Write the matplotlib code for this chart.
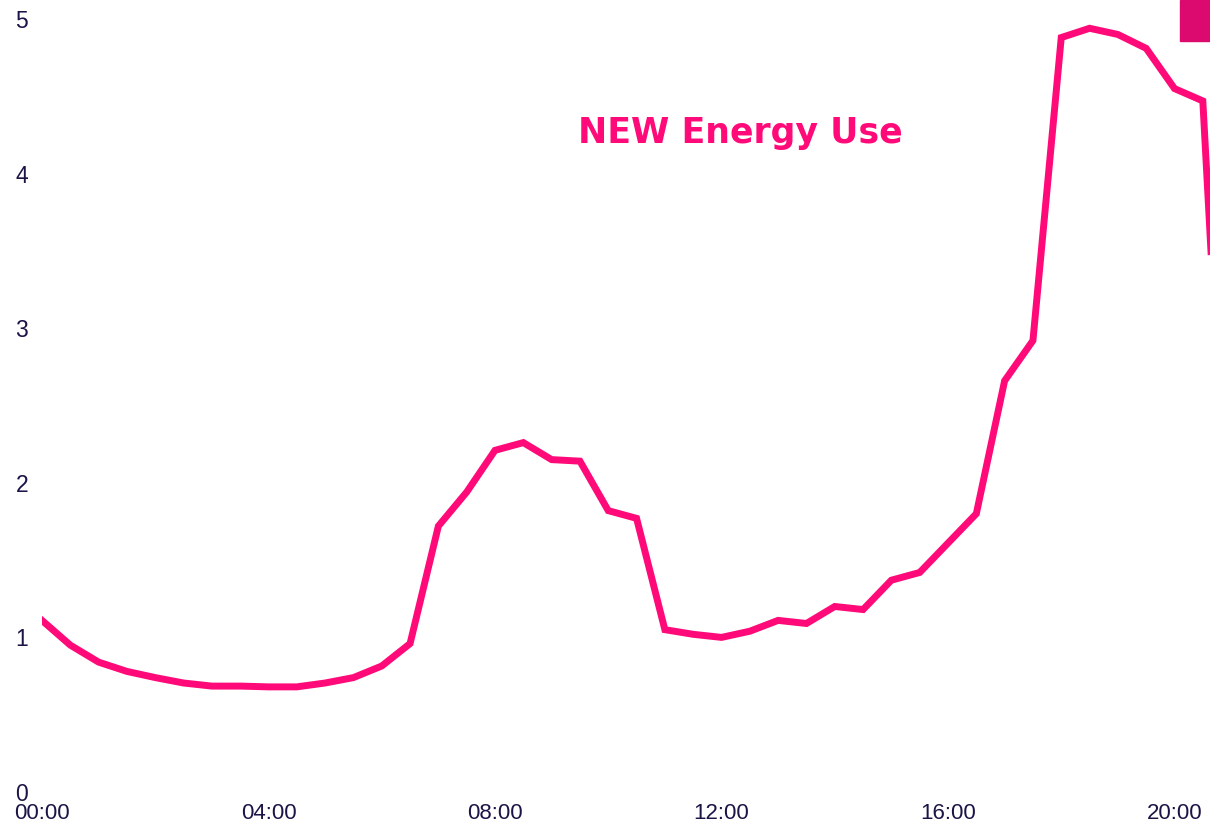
import matplotlib
matplotlib.use("Agg")
import matplotlib.pyplot as plt
from matplotlib.patches import Rectangle

# half-hourly energy use (kWh)
hours = [i * 0.5 for i in range(43)]
energy = [1.11, 0.95, 0.84, 0.78, 0.74, 0.705, 0.685, 0.685, 0.68, 0.68,
          0.705, 0.74, 0.815, 0.96, 1.72, 1.94, 2.21, 2.26, 2.15, 2.14,
          1.82, 1.77, 1.05, 1.02, 1.00, 1.04, 1.11, 1.09, 1.20, 1.18,
          1.37, 1.42, 1.61, 1.80, 2.66, 2.92, 4.88, 4.94, 4.90, 4.81,
          4.55, 4.47, 1.1]
xticks = [0, 4, 8, 12, 16, 20]
xtick_labels = ["00:00", "04:00", "08:00", "12:00", "16:00", "20:00"]
yticks = [0, 1, 2, 3, 4, 5]
title = "NEW Energy Use"

line_color = "#FF0A78"
text_color = "#1B1446"

W, H = 1210, 824
fig = plt.figure(figsize=(W / 100, H / 100), dpi=100)
left = 42 / W
bottom = (H - 792) / H
ax = fig.add_axes([left, bottom, 1 - left, 1 - bottom])
ax.set_xlim(0, (1210 - 42) / 56.625)
ax.set_ylim(0, 792 / 154.6)
ax.plot(hours, energy, color=line_color, lw=5, solid_joinstyle="miter", clip_on=True)

for s in ax.spines.values():
    s.set_visible(False)
ax.set_xticks(xticks)
ax.set_xticklabels(xtick_labels)
ax.set_yticks(yticks)
ax.tick_params(length=0, labelcolor=text_color)
ax.tick_params(axis="x", pad=8, labelsize=16)
ax.tick_params(axis="y", pad=10, labelsize=16.5)
for lab in ax.get_xticklabels() + ax.get_yticklabels():
    lab.set_family("Liberation Sans")

ax.text(12.34, 4.26, title, color=line_color, fontsize=25, fontweight="bold",
        family="DejaVu Sans", ha="center", va="center")

fig.patches.append(Rectangle((1180 / W, 1 - 41 / H), 30 / W, 41 / H,
                             transform=fig.transFigure, color="#DC0A6E"))

fig.savefig("out.png", dpi=100)
